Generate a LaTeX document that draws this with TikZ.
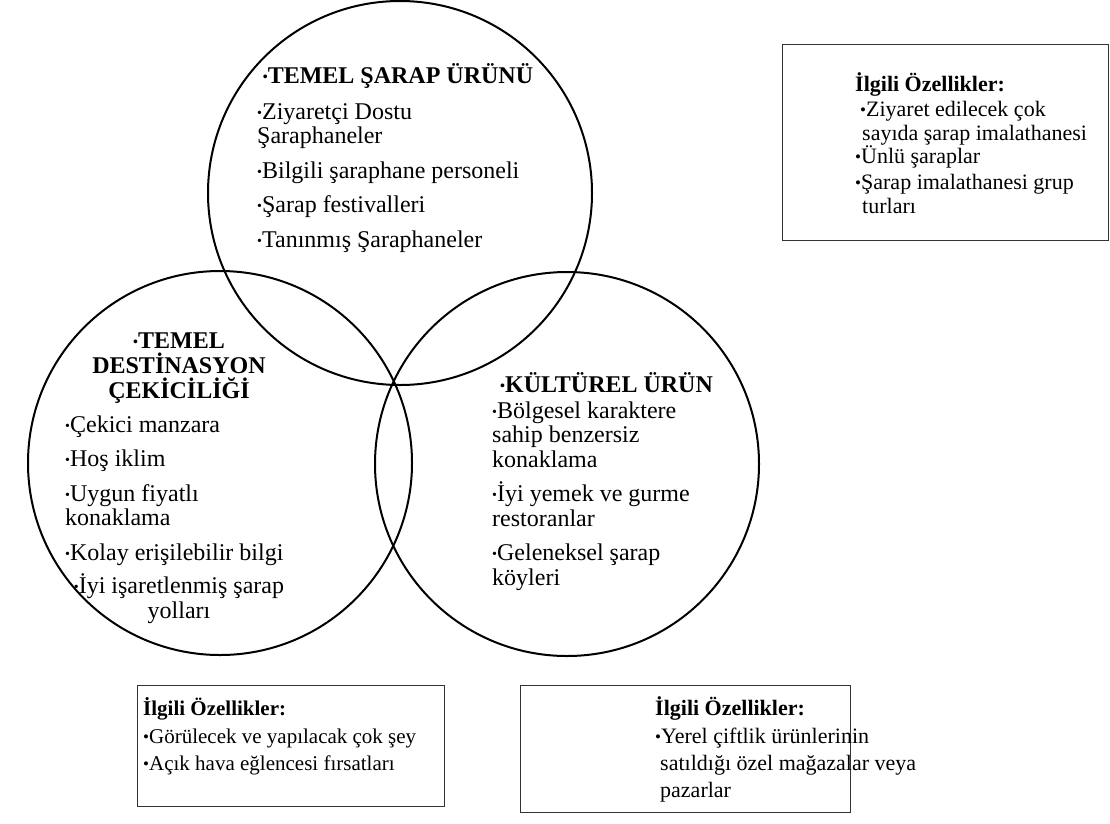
\documentclass[tikz,border=0pt]{standalone}
\usepackage{fontspec}
\setmainfont{Liberation Serif}
\usetikzlibrary{positioning}
\newcommand{\cb}{\raisebox{1.9pt}{\fontsize{14}{14}\selectfont •}}
\newcommand{\bx}{\raisebox{0.8pt}{\fontsize{17}{17}\selectfont •}}

\begin{document}
\begin{tikzpicture}[x=1pt,y=-1pt,
    venn/.style={circle,draw,line width=2pt,minimum size=384pt,inner sep=0pt},
    baslik/.style={font=\fontsize{24}{25}\selectfont\bfseries,inner sep=0pt,align=center},
    madde/.style={font=\fontsize{24}{24.5}\selectfont,inner sep=0pt,align=left},
    kutu/.style={draw=black!80,line width=1pt},
    kutuyazi/.style={font=\fontsize{22}{23.5}\selectfont,inner sep=0pt,align=left}]
  \useasboundingbox (0,0) rectangle (1110,823);
  % daireler
  \node[venn] (sarap) at (400,193) {};
  \node[venn] (destinasyon) at (220,463) {};
  \node[venn] (kultur) at (567,464) {};
  % temel sarap urunu (base = son satir)
  \node[baslik,anchor=base] (sarapBaslik) at (398,83) {\cb TEMEL ŞARAP ÜRÜNÜ};
  \node[madde,anchor=base west] (sarapMadde) at (257,247)
     {\cb Ziyaretçi Dostu\\Şaraphaneler\\[10pt]\cb Bilgili şaraphane personeli\\[10pt]\cb Şarap festivalleri\\[10pt]\cb Tanınmış Şaraphaneler};
  % temel destinasyon cekiciligi
  \node[baslik,anchor=base] (destBaslik) at (179,398) {\cb TEMEL\\DESTİNASYON\\ÇEKİCİLİĞİ};
  \node[madde,anchor=base west] (destMadde) at (65,560)
     {\cb Çekici manzara\\[10pt]\cb Hoş iklim\\[10pt]\cb Uygun fiyatlı\\konaklama\\[10pt]\cb Kolay erişilebilir bilgi};
  \node[madde,align=center,anchor=base] (destSon) at (179,618) {\cb İyi işaretlenmiş şarap\\yolları};
  % kulturel urun
  \node[baslik,anchor=base west] (kulturBaslik) at (500,392) {\cb KÜLTÜREL ÜRÜN};
  \node[madde,anchor=base west] (kulturMadde) at (492,585)
     {\cb Bölgesel karaktere\\sahip benzersiz\\konaklama\\[10pt]\cb İyi yemek ve gurme\\restoranlar\\[10pt]\cb Geleneksel şarap\\köyleri};
  % ilgili ozellikler kutulari
  \draw[kutu] (782,44) rectangle (1108,240);
  \node[kutuyazi,anchor=base west] (ozSarap) at (855,213)
     {\textbf{İlgili Özellikler:}\\[1.5pt]\hspace*{5pt}\bx Ziyaret edilecek çok\\\hspace*{7pt}sayıda şarap imalathanesi\\\bx Ünlü şaraplar\\[2.5pt]\bx Şarap imalathanesi grup\\\hspace*{7pt}turları};
  \draw[kutu] (137,685) rectangle (444,806);
  \node[kutuyazi,font=\fontsize{21}{23.5}\selectfont,anchor=base west] (ozDest) at (143,770)
     {\textbf{İlgili Özellikler:}\\[4.5pt]\bx Görülecek ve yapılacak çok şey\\[3.5pt]\bx Açık hava eğlencesi fırsatları};
  \draw[kutu] (520,685) rectangle (850,812);
  \node[kutuyazi,anchor=base west] (ozKultur) at (655,797)
     {\textbf{İlgili Özellikler:}\\[4.5pt]\bx Yerel çiftlik ürünlerinin\\[3.5pt]\hspace*{5pt}satıldığı özel mağazalar veya\\[3.5pt]\hspace*{5pt}pazarlar};
\end{tikzpicture}
\end{document}
